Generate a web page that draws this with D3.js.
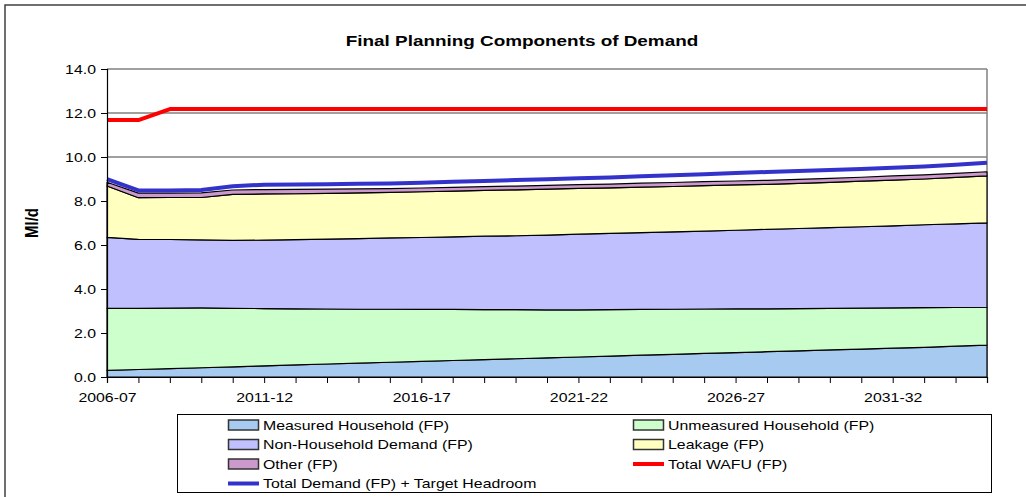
<!DOCTYPE html>
<html><head><meta charset="utf-8">
<script src="https://cdn.jsdelivr.net/npm/d3@7"></script>
<style>
html,body{margin:0;padding:0;background:#fff;}
text{font-family:"Liberation Sans",Arial,sans-serif;fill:#000;}
text.st{transform-box:fill-box;}
</style></head>
<body>
<svg id="chart" width="1026" height="497"></svg>
<script>
const categories = ["2006-07","2007-08","2008-09","2009-10","2010-11","2011-12","2012-13","2013-14","2014-15","2015-16","2016-17","2017-18","2018-19","2019-20","2020-21","2021-22","2022-23","2023-24","2024-25","2025-26","2026-27","2027-28","2028-29","2029-30","2030-31","2031-32","2032-33","2033-34","2034-35"];
const xTickLabels = ["2006-07","2011-12","2016-17","2021-22","2026-27","2031-32"];
const yTicks = [0,2,4,6,8,10,12,14];

const measured = [0.30,0.34,0.38,0.42,0.46,0.51,0.55,0.59,0.63,0.67,0.71,0.75,0.79,0.83,0.87,0.91,0.95,0.99,1.03,1.07,1.11,1.15,1.19,1.23,1.27,1.31,1.35,1.40,1.45];
const unmeasured = [2.82,2.78,2.75,2.72,2.66,2.60,2.55,2.50,2.45,2.41,2.36,2.32,2.27,2.23,2.18,2.14,2.11,2.08,2.05,2.02,1.99,1.95,1.92,1.89,1.86,1.83,1.80,1.76,1.72];
const nonHousehold = [3.23,3.14,3.12,3.09,3.09,3.11,3.14,3.18,3.21,3.24,3.27,3.30,3.34,3.36,3.40,3.44,3.47,3.49,3.52,3.54,3.57,3.61,3.64,3.67,3.70,3.73,3.77,3.80,3.84];
const leakage = [2.33,1.89,1.91,1.93,2.09,2.10,2.09,2.08,2.08,2.07,2.08,2.08,2.08,2.09,2.09,2.08,2.07,2.07,2.06,2.07,2.06,2.05,2.05,2.06,2.07,2.08,2.08,2.11,2.13];
const other = [0.17,0.21,0.20,0.21,0.20,0.20,0.20,0.19,0.18,0.17,0.17,0.17,0.17,0.17,0.17,0.17,0.17,0.18,0.18,0.18,0.18,0.18,0.18,0.18,0.18,0.19,0.19,0.19,0.19];
const totalWAFU = [11.68,11.68,12.18,12.18,12.18,12.18,12.18,12.18,12.18,12.18,12.18,12.18,12.18,12.18,12.18,12.18,12.18,12.18,12.18,12.18,12.18,12.18,12.18,12.18,12.18,12.18,12.18,12.18,12.18];
const totalDemand = [8.99,8.48,8.48,8.50,8.67,8.74,8.75,8.76,8.78,8.80,8.83,8.87,8.91,8.95,8.99,9.03,9.07,9.12,9.17,9.22,9.27,9.32,9.36,9.41,9.46,9.51,9.57,9.65,9.74];

const areaSeries = [
  {key:"measured", name:"Measured Household (FP)", values:measured, color:"#A6CAF0"},
  {key:"unmeasured", name:"Unmeasured Household (FP)", values:unmeasured, color:"#CCFFCC"},
  {key:"nonHousehold", name:"Non-Household Demand (FP)", values:nonHousehold, color:"#C0C0FF"},
  {key:"leakage", name:"Leakage (FP)", values:leakage, color:"#FFFFC0"},
  {key:"other", name:"Other (FP)", values:other, color:"#CC99CC"}
];
const lineSeries = [
  {name:"Total WAFU (FP)", values:totalWAFU, color:"#FF0000"},
  {name:"Total Demand (FP) + Target Headroom", values:totalDemand, color:"#3333CC"}
];

(function(){
const SX = 1.22; // horizontal stretch of text seen in the reference
const svg = d3.select("#chart");
const pL = 107, pR = 987, pT = 69, pB = 377;

svg.append("rect").attr("x",5).attr("y",5).attr("width",1100).attr("height",600)
  .attr("fill","none").attr("stroke","#404040").attr("stroke-width",1.5);

const x = d3.scalePoint().domain(categories).range([pL,pR]).padding(0);
const y = d3.scaleLinear().domain([0,14]).range([pB,pT]);

svg.append("g").selectAll("line").data(yTicks.filter(d=>d>0)).join("line")
  .attr("x1",pL).attr("x2",pR).attr("y1",d=>y(d)).attr("y2",d=>y(d))
  .attr("stroke","#808080").attr("stroke-width",1.5);
svg.append("line").attr("x1",pR).attr("x2",pR).attr("y1",pT).attr("y2",pB)
  .attr("stroke","#808080").attr("stroke-width",1.5);

const rows = categories.map((c,i)=>{
  const r = {cat:c};
  areaSeries.forEach(s=>r[s.key]=s.values[i]);
  return r;
});
const stacked = d3.stack().keys(areaSeries.map(s=>s.key))(rows);
const area = d3.area().x(d=>x(d.data.cat)).y0(d=>y(d[0])).y1(d=>y(d[1]));
svg.append("g").selectAll("path").data(stacked).join("path")
  .attr("d",area)
  .attr("fill",(d,i)=>areaSeries[i].color)
  .attr("stroke","#000").attr("stroke-width",1.2).attr("stroke-linejoin","round");

const line = d3.line().x((d,i)=>x(categories[i])).y(d=>y(d));
svg.append("g").selectAll("path").data(lineSeries).join("path")
  .attr("d",d=>line(d.values)).attr("fill","none")
  .attr("stroke",d=>d.color).attr("stroke-width",4).attr("stroke-linejoin","round");

const yAxis = d3.axisLeft(y).tickValues(yTicks).tickFormat(d3.format(".1f")).tickSize(6).tickPadding(5);
const gy = svg.append("g").attr("transform",`translate(${pL},0)`).call(yAxis);
gy.select(".domain").attr("stroke","#000").attr("stroke-width",1.2);
gy.selectAll(".tick line").attr("stroke","#000");
gy.selectAll("text").attr("class","st").style("font-size","13px").attr("fill","#000")
  .style("transform-origin","right center").style("transform",`scaleX(${SX})`);

const xAxis = d3.axisBottom(x).tickSize(6).tickPadding(10)
  .tickFormat(d=>xTickLabels.includes(d)?d:"");
const gx = svg.append("g").attr("transform",`translate(0,${pB})`).call(xAxis);
gx.select(".domain").attr("stroke","#000").attr("stroke-width",1.2);
gx.selectAll(".tick line").attr("stroke","#000");
gx.selectAll("text").attr("class","st").style("font-size","13px").attr("fill","#000")
  .style("transform-origin","center").style("transform",`scaleX(${SX})`);

svg.append("text").attr("class","st").attr("x",522).attr("y",46).attr("text-anchor","middle")
  .style("font-size","15.5px").style("font-weight","bold")
  .style("transform-origin","center").style("transform",`scaleX(${SX})`)
  .text("Final Planning Components of Demand");
svg.append("text").attr("transform",`translate(38,223) scale(${SX},1) rotate(-90)`).attr("text-anchor","middle")
  .style("font-size","15px").style("font-weight","bold").text("Ml/d");

const lg = svg.append("g");
lg.append("rect").attr("x",177.5).attr("y",414.5).attr("width",814).attr("height",78)
  .attr("fill","#fff").attr("stroke","#000").attr("stroke-width",1);
const items = [
  {type:"area", s:areaSeries[0]}, {type:"area", s:areaSeries[1]},
  {type:"area", s:areaSeries[2]}, {type:"area", s:areaSeries[3]},
  {type:"area", s:areaSeries[4]}, {type:"line", s:lineSeries[0]},
  {type:"line", s:lineSeries[1]}
];
const colX = [228, 633], rowY = [425, 444.5, 464, 483.5];
items.forEach((it,i)=>{
  const cx = colX[i%2], cy = rowY[Math.floor(i/2)];
  if(it.type==="area"){
    lg.append("rect").attr("x",cx+0.5).attr("y",cy-5).attr("width",30).attr("height",10)
      .attr("fill",it.s.color).attr("stroke","#333").attr("stroke-width",1.5);
  } else {
    lg.append("line").attr("x1",cx).attr("x2",cx+31).attr("y1",cy).attr("y2",cy)
      .attr("stroke",it.s.color).attr("stroke-width",4);
  }
  lg.append("text").attr("class","st").attr("x",cx+35).attr("y",cy).attr("dy","0.35em")
    .style("font-size","13px").style("transform-origin","left center")
    .style("transform",`scaleX(${SX})`).text(it.s.name);
});
})();
</script>
</body></html>
